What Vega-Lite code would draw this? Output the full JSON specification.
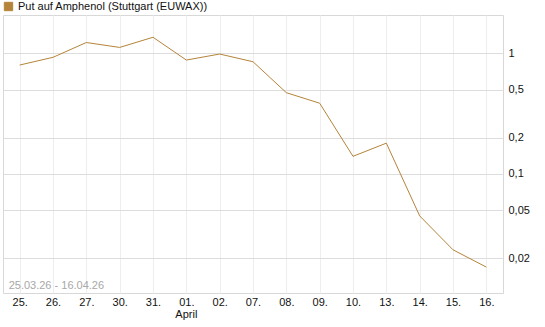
{
  "$schema": "https://vega.github.io/schema/vega-lite/v6.json",
  "width": 500,
  "height": 278,
  "autosize": "none",
  "padding": {"left": 3, "top": 15, "right": 42, "bottom": 34},
  "background": "white",
  "config": {
    "font": "Liberation Sans",
    "locale": {"number": {"decimal": ",", "thousands": ".", "grouping": [3], "currency": ["", " €"]}},
    "view": {"stroke": "#d8d8d8", "strokeWidth": 1},
    "axis": {"labelFont": "Liberation Sans", "labelFontSize": 11, "labelColor": "#111111", "ticks": false, "domain": false}
  },
  "datasets": {
    "prices": [
      {"d": "25.", "v": 0.80, "s": "Put auf Amphenol  (Stuttgart (EUWAX))"},
      {"d": "26.", "v": 0.927, "s": "Put auf Amphenol  (Stuttgart (EUWAX))"},
      {"d": "27.", "v": 1.23, "s": "Put auf Amphenol  (Stuttgart (EUWAX))"},
      {"d": "30.", "v": 1.12, "s": "Put auf Amphenol  (Stuttgart (EUWAX))"},
      {"d": "31.", "v": 1.36, "s": "Put auf Amphenol  (Stuttgart (EUWAX))"},
      {"d": "01.", "v": 0.88, "s": "Put auf Amphenol  (Stuttgart (EUWAX))"},
      {"d": "02.", "v": 0.987, "s": "Put auf Amphenol  (Stuttgart (EUWAX))"},
      {"d": "07.", "v": 0.852, "s": "Put auf Amphenol  (Stuttgart (EUWAX))"},
      {"d": "08.", "v": 0.472, "s": "Put auf Amphenol  (Stuttgart (EUWAX))"},
      {"d": "09.", "v": 0.386, "s": "Put auf Amphenol  (Stuttgart (EUWAX))"},
      {"d": "10.", "v": 0.140, "s": "Put auf Amphenol  (Stuttgart (EUWAX))"},
      {"d": "13.", "v": 0.180, "s": "Put auf Amphenol  (Stuttgart (EUWAX))"},
      {"d": "14.", "v": 0.0449, "s": "Put auf Amphenol  (Stuttgart (EUWAX))"},
      {"d": "15.", "v": 0.0235, "s": "Put auf Amphenol  (Stuttgart (EUWAX))"},
      {"d": "16.", "v": 0.0169, "s": "Put auf Amphenol  (Stuttgart (EUWAX))"}
    ],
    "notes": [
      {"d": "25.", "v": 0.0118, "t": "25.03.26 - 16.04.26", "k": "range"},
      {"d": "01.", "v": 0.0068, "t": "April", "k": "month"}
    ]
  },
  "layer": [
    {
      "data": {"name": "prices"},
      "mark": {"type": "line", "strokeWidth": 1, "interpolate": "linear"},
      "encoding": {
        "x": {
          "field": "d", "type": "ordinal", "sort": null,
          "scale": {"type": "point", "padding": 0.5, "domain": ["25.", "26.", "27.", "30.", "31.", "01.", "02.", "07.", "08.", "09.", "10.", "13.", "14.", "15.", "16."]},
          "axis": {
            "title": null, "labelAngle": 0, "grid": true, "gridColor": "#eeeeee",
            "labelPadding": 3
          }
        },
        "y": {
          "field": "v", "type": "quantitative",
          "scale": {"type": "log", "domain": [0.0103, 2.08], "nice": false},
          "axis": {
            "orient": "right", "title": null, "values": [0.02, 0.05, 0.1, 0.2, 0.5, 1],
            "grid": true, "gridColor": "#dddddd", "labelPadding": 5,
            "format": "~g"
          }
        },
        "color": {
          "field": "s", "type": "nominal",
          "scale": {"range": ["#b5843a"]},
          "legend": {
            "orient": "none", "legendX": 0, "legendY": -14, "title": null,
            "symbolType": "square", "symbolSize": 70, "symbolFillColor": "#b5843a",
            "symbolStrokeColor": "#555555", "symbolStrokeWidth": 1, "labelLimit": 400,
            "labelFontSize": 11, "labelColor": "#111111", "labelOffset": 4
          }
        }
      }
    },
    {
      "data": {"name": "notes"},
      "transform": [{"filter": "datum.k == 'range'"}],
      "mark": {"type": "text", "align": "left", "baseline": "middle", "dx": -11, "fontSize": 11, "color": "#a8a8a8"},
      "encoding": {
        "x": {"field": "d", "type": "ordinal"},
        "y": {"field": "v", "type": "quantitative"},
        "text": {"field": "t"}
      }
    },
    {
      "data": {"name": "notes"},
      "transform": [{"filter": "datum.k == 'month'"}],
      "mark": {"type": "text", "align": "center", "baseline": "middle", "fontSize": 11, "color": "#111111", "clip": false},
      "encoding": {
        "x": {"field": "d", "type": "ordinal"},
        "y": {"field": "v", "type": "quantitative"},
        "text": {"field": "t"}
      }
    }
  ]
}
